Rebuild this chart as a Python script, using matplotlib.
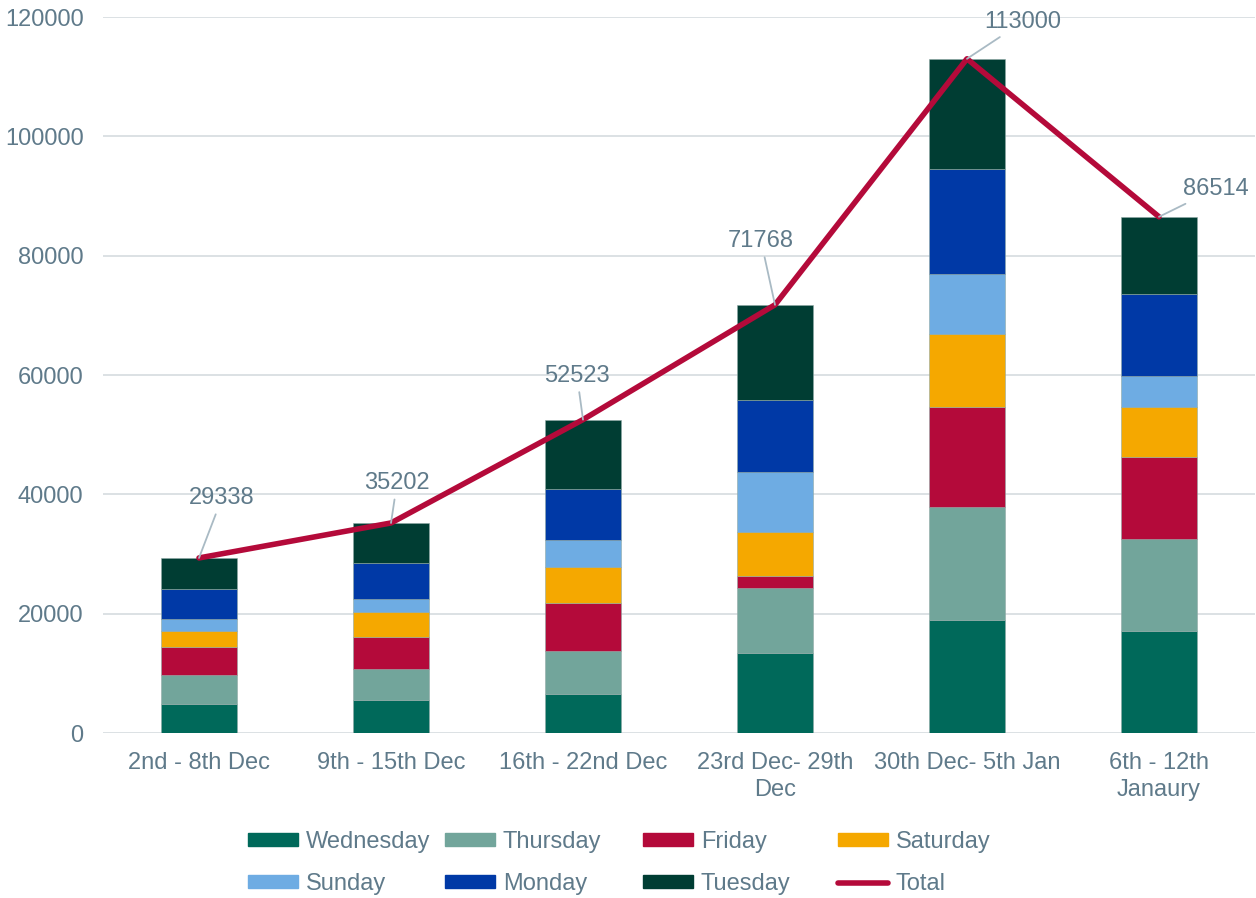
import matplotlib.pyplot as plt
import numpy as np
from matplotlib.patches import Patch
from matplotlib.lines import Line2D

plt.rcParams['font.family'] = ['Liberation Sans', 'DejaVu Sans']

weeks = ['2nd - 8th Dec', '9th - 15th Dec', '16th - 22nd Dec',
         '23rd Dec- 29th\nDec', '30th Dec- 5th Jan', '6th - 12th\nJanaury']
days = ['Wednesday', 'Thursday', 'Friday', 'Saturday', 'Sunday', 'Monday', 'Tuesday']

wednesday = [4900, 5600, 6500, 13350, 18900, 17100]
thursday = [4760, 5120, 7300, 10890, 18980, 15480]
friday = [4690, 5310, 8040, 2060, 16750, 13610]
saturday = [2780, 4190, 6030, 7370, 12280, 8480]
sunday = [1910, 2230, 4470, 10000, 10000, 5190]
monday = [5030, 6080, 8490, 12110, 17540, 13730]
tuesday = [5268, 6677, 11703, 15990, 18580, 12924]
total = [29338, 35202, 52523, 71768, 113000, 86514]

colors = ['#00695A', '#72A59B', '#B40A3A', '#F5A800', '#6EACE3', '#0039A6', '#003D33']
line_color = '#B40A3A'
text_color = '#5F7A8A'
grid_color = '#D9DEE2'
fs = 17

# label offsets in pixels (dx, dy) from the point
label_off = [(23, 60), (6, 40), (-6, 44), (-14, 64), (56, 37), (57, 28)]

fig = plt.figure(figsize=(12.56, 8.98), dpi=100)
ax = fig.add_axes([103 / 1256, 1 - 733 / 898, 1152 / 1256, 716 / 898])

x = np.arange(len(weeks))
series = [wednesday, thursday, friday, saturday, sunday, monday, tuesday]
bottom = np.zeros(len(weeks))
for name, vals, c in zip(days, series, colors):
    ax.bar(x, vals, 0.4, bottom=bottom, color=c, edgecolor='#8FA9A5', linewidth=0.4,
           label=name, zorder=2)
    bottom += np.array(vals)

ax.plot(x, total, color=line_color, linewidth=4, zorder=4, solid_capstyle='round')

for xi, t, (dx, dy) in zip(x, total, label_off):
    ax.annotate(str(t), xy=(xi, t), xytext=(dx, dy), textcoords='offset pixels',
                ha='center', va='center', fontsize=fs, color=text_color,
                arrowprops=dict(arrowstyle='-', color='#A9BAC4', lw=1.3,
                                shrinkA=2, shrinkB=0), zorder=5)

ax.set_xlim(-0.5, len(weeks) - 0.5)
ax.set_ylim(0, 120000)
ax.set_yticks(np.arange(0, 120001, 20000))
ax.yaxis.grid(True, color=grid_color, linewidth=1.3, zorder=0)
ax.set_axisbelow(True)
for s in ax.spines.values():
    s.set_visible(False)
ax.tick_params(length=0, labelsize=fs, colors=text_color)
ax.tick_params(axis='x', pad=13.5)
ax.tick_params(axis='y', pad=14)
ax.set_xticks(x)
ax.set_xticklabels(weeks, linespacing=1.3)

handles = [Patch(color=c, label=d) for d, c in zip(days, colors)]
handles.append(Line2D([0], [0], color=line_color, linewidth=4, solid_capstyle='round', label='Total'))

# one legend per column so the columns sit evenly spaced like the original
col_x = [248, 445, 643, 838]
for j, cx in enumerate(col_x):
    pair = [handles[j], handles[j + 4]]
    leg = fig.legend(pair, [h.get_label() for h in pair], loc='upper left',
                     bbox_to_anchor=(cx / 1256, 1 - 831 / 898), ncol=1,
                     frameon=False, fontsize=fs, handlelength=2.1, handleheight=0.5,
                     handletextpad=0.35, labelspacing=0.85, borderpad=0, borderaxespad=0)
    for t in leg.get_texts():
        t.set_color(text_color)

fig.savefig('out.png', dpi=100)
